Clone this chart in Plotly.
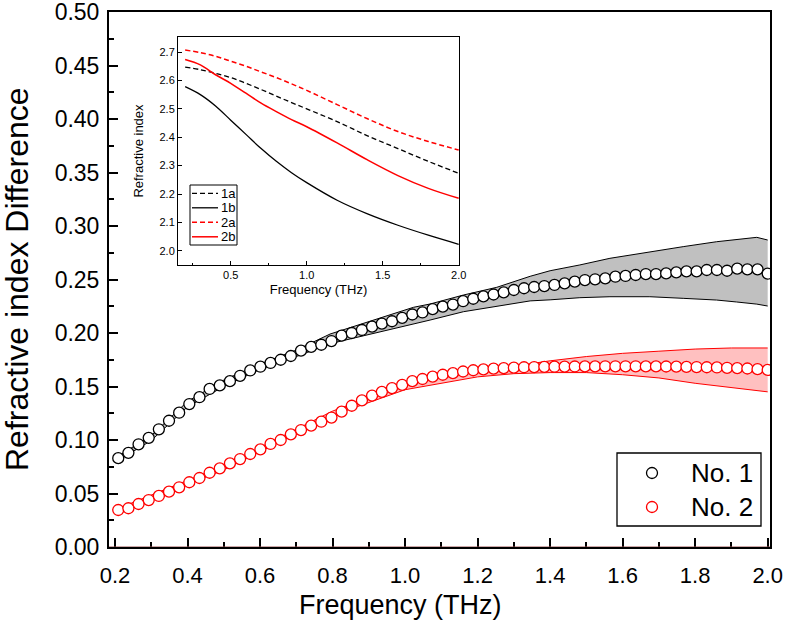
import plotly.graph_objects as go

# ---------------- main data ----------------
freq = [0.209, 0.237, 0.265, 0.293, 0.321, 0.349, 0.377, 0.405, 0.433, 0.461,
        0.489, 0.517, 0.545, 0.573, 0.601, 0.629, 0.657, 0.685, 0.713, 0.741,
        0.769, 0.797, 0.825, 0.853, 0.881, 0.909, 0.936, 0.964, 0.992, 1.020,
        1.048, 1.076, 1.104, 1.132, 1.160, 1.188, 1.216, 1.244, 1.272, 1.300,
        1.328, 1.356, 1.384, 1.412, 1.440, 1.468, 1.496, 1.524, 1.552, 1.580,
        1.608, 1.636, 1.664, 1.692, 1.720, 1.748, 1.776, 1.804, 1.832, 1.860,
        1.888, 1.916, 1.944, 1.972, 2.000]

no1 = [0.0830, 0.0880, 0.0960, 0.1020, 0.1100, 0.1180, 0.1255, 0.1336, 0.1400, 0.1477,
       0.1510, 0.1550, 0.1600, 0.1650, 0.1685, 0.1720, 0.1750, 0.1785, 0.1835, 0.1870,
       0.1890, 0.1925, 0.1975, 0.2000, 0.2028, 0.2059, 0.2087, 0.2110, 0.2142, 0.2173,
       0.2192, 0.2223, 0.2246, 0.2266, 0.2297, 0.2320, 0.2342, 0.2360, 0.2380, 0.2402,
       0.2418, 0.2430, 0.2439, 0.2449, 0.2464, 0.2480, 0.2495, 0.2502, 0.2511, 0.2526,
       0.2533, 0.2542, 0.2551, 0.2551, 0.2557, 0.2567, 0.2576, 0.2576, 0.2589, 0.2589,
       0.2582, 0.2601, 0.2595, 0.2595, 0.2555]

no2 = [0.0346, 0.0362, 0.0402, 0.0439, 0.0477, 0.0517, 0.0558, 0.0605, 0.0645, 0.0694,
       0.0735, 0.0782, 0.0822, 0.0869, 0.0913, 0.0963, 0.1000, 0.1053, 0.1093, 0.1134,
       0.1171, 0.1210, 0.1265, 0.1320, 0.1370, 0.1415, 0.1450, 0.1485, 0.1515, 0.1550,
       0.1570, 0.1592, 0.1610, 0.1625, 0.1640, 0.1652, 0.1660, 0.1667, 0.1672, 0.1676,
       0.1680, 0.1682, 0.1684, 0.1685, 0.1686, 0.1687, 0.1688, 0.1688, 0.1689, 0.1689,
       0.1689, 0.1689, 0.1688, 0.1688, 0.1687, 0.1686, 0.1684, 0.1682, 0.1680, 0.1678,
       0.1675, 0.1672, 0.1668, 0.1662, 0.1655]

band1_freq = [0.209, 0.30, 0.40, 0.50, 0.60, 0.70, 0.793, 0.885, 0.977, 1.023, 1.069,
              1.161, 1.253, 1.345, 1.40, 1.482, 1.565, 1.675, 1.767, 1.859, 1.914,
              1.970, 2.000]
band1_upper = [0.0850, 0.1040, 0.1360, 0.1560, 0.1710, 0.1840, 0.1990, 0.2090, 0.2184,
               0.2240, 0.2271, 0.2355, 0.2427, 0.2530, 0.2582, 0.2636, 0.2698, 0.2760,
               0.2807, 0.2853, 0.2876, 0.2894, 0.2869]
band1_lower = [0.0810, 0.0995, 0.1310, 0.1500, 0.1660, 0.1780, 0.1900, 0.1972, 0.2044,
               0.2085, 0.2121, 0.2199, 0.2252, 0.2300, 0.2310, 0.2330, 0.2339, 0.2339,
               0.2324, 0.2308, 0.2290, 0.2270, 0.2252]

band2_freq = [0.209, 0.50, 0.80, 1.00, 1.20, 1.30, 1.40, 1.50, 1.60, 1.70, 1.80, 1.90, 2.00]
band2_upper = [0.0360, 0.0760, 0.1270, 0.1520, 0.1640, 0.1690, 0.1740, 0.1780, 0.1810,
               0.1830, 0.1850, 0.1860, 0.1860]
band2_lower = [0.0330, 0.0720, 0.1230, 0.1470, 0.1590, 0.1620, 0.1630, 0.1630, 0.1610,
               0.1580, 0.1530, 0.1490, 0.1450]

series_names = ["No. 1", "No. 2"]
series_colors = ["black", "red"]

x_ticks = [0.2, 0.4, 0.6, 0.8, 1.0, 1.2, 1.4, 1.6, 1.8, 2.0]
x_ticklabels = ["0.2", "0.4", "0.6", "0.8", "1.0", "1.2", "1.4", "1.6", "1.8", "2.0"]
y_ticks = [0.0, 0.05, 0.10, 0.15, 0.20, 0.25, 0.30, 0.35, 0.40, 0.45, 0.50]
y_ticklabels = ["0.00", "0.05", "0.10", "0.15", "0.20", "0.25", "0.30", "0.35", "0.40", "0.45", "0.50"]

# ---------------- inset data ----------------
inset_freq = [0.2, 0.3, 0.4, 0.5, 0.6, 0.7, 0.8, 0.9, 1.0, 1.2, 1.4, 1.6, 1.8, 2.0]
n_1a = [2.647, 2.638, 2.625, 2.610, 2.590, 2.568, 2.545, 2.522, 2.500, 2.455, 2.405, 2.360, 2.315, 2.273]
n_1b = [2.578, 2.550, 2.510, 2.460, 2.410, 2.360, 2.315, 2.275, 2.240, 2.178, 2.130, 2.090, 2.055, 2.023]
n_2a = [2.707, 2.698, 2.685, 2.668, 2.650, 2.630, 2.610, 2.588, 2.565, 2.515, 2.465, 2.420, 2.385, 2.355]
n_2b = [2.674, 2.655, 2.620, 2.590, 2.555, 2.520, 2.490, 2.462, 2.437, 2.380, 2.320, 2.265, 2.220, 2.185]
inset_names = ["1a", "1b", "2a", "2b"]
inset_colors = ["black", "black", "red", "red"]
inset_dash = ["5px,3px", "solid", "5px,3px", "solid"]

FONT = "Arial, Liberation Sans, sans-serif"

fig = go.Figure()

# bands (No. 1 gray, No. 2 pink)
fig.add_trace(go.Scatter(x=band1_freq, y=band1_lower, mode="lines",
                         line=dict(color="black", width=1), showlegend=False, hoverinfo="skip"))
fig.add_trace(go.Scatter(x=band1_freq, y=band1_upper, mode="lines", fill="tonexty",
                         fillcolor="#c0c0c0", line=dict(color="black", width=1),
                         showlegend=False, hoverinfo="skip"))
fig.add_trace(go.Scatter(x=band2_freq, y=band2_lower, mode="lines",
                         line=dict(color="red", width=1), showlegend=False, hoverinfo="skip"))
fig.add_trace(go.Scatter(x=band2_freq, y=band2_upper, mode="lines", fill="tonexty",
                         fillcolor="#ffc0c0", line=dict(color="red", width=1),
                         showlegend=False, hoverinfo="skip"))

# circles
for name, ys, col in zip(series_names, [no1, no2], series_colors):
    fig.add_trace(go.Scatter(x=freq, y=ys, mode="markers", name=name, showlegend=False,
                             marker=dict(symbol="circle", size=11, color="white",
                                         line=dict(color=col, width=1.3))))

# inset curves
for name, ys, col, dsh in zip(inset_names, [n_1a, n_1b, n_2a, n_2b], inset_colors, inset_dash):
    fig.add_trace(go.Scatter(x=inset_freq, y=ys, mode="lines", name=name, line_shape="spline",
                             line=dict(color=col, width=1.5 if col == "red" else 1.3, dash=dsh),
                             xaxis="x2", yaxis="y2", showlegend=False))

# helpers: pixel -> paper coordinates
PL, PT, PW, PH = 109.0, 12.0, 661.0, 535.0
def px(x):
    return (x - PL) / PW
def py(y):
    return (PT + PH - y) / PH

shapes = []
annotations = []

# manual inset legend
shapes.append(dict(type="rect", xref="paper", yref="paper", x0=px(190), x1=px(237), y0=py(245), y1=py(185),
                   line=dict(color="black", width=1), fillcolor="white", layer="above"))
for k, (name, col, dsh) in enumerate(zip(inset_names, inset_colors, inset_dash)):
    yy = 193.3 + k * 14.5
    shapes.append(dict(type="line", xref="paper", yref="paper", x0=px(192), x1=px(218),
                       y0=py(yy), y1=py(yy), layer="above",
                       line=dict(color=col, width=1.5 if col == "red" else 1.3, dash=dsh)))
    annotations.append(dict(xref="paper", yref="paper", x=px(219), y=py(yy), text=name,
                            showarrow=False, xanchor="left", yanchor="middle",
                            font=dict(size=13, family=FONT, color="black")))

# manual main legend
shapes.append(dict(type="rect", xref="paper", yref="paper", x0=px(617), x1=px(761), y0=py(526), y1=py(453),
                   line=dict(color="black", width=1.3), fillcolor="white", layer="above"))
for k, (name, col) in enumerate(zip(series_names, series_colors)):
    yy = 473 + k * 34
    shapes.append(dict(type="circle", xref="paper", yref="paper", xsizemode="pixel", ysizemode="pixel",
                       xanchor=px(652), yanchor=py(yy), x0=-5.5, x1=5.5, y0=-5.5, y1=5.5,
                       line=dict(color=col, width=1.3), fillcolor="white", layer="above"))
    annotations.append(dict(xref="paper", yref="paper", x=px(689), y=py(yy), text=name,
                            showarrow=False, xanchor="left", yanchor="middle",
                            font=dict(size=26, family=FONT, color="black")))

# axis titles
annotations.append(dict(xref="paper", yref="paper", x=px(17), y=py(279), text="Refractive index Difference",
                        textangle=-90, showarrow=False, xanchor="center", yanchor="middle",
                        font=dict(size=32, family=FONT, color="black")))
annotations.append(dict(xref="paper", yref="paper", x=px(400), y=py(605), text="Frequency (THz)",
                        showarrow=False, xanchor="center", yanchor="middle",
                        font=dict(size=27, family=FONT, color="black")))

shapes.append(dict(type="line", xref="paper", yref="y", x0=0, x1=1, y0=0, y1=0,
                   line=dict(color="#9a5050", width=1), layer="above"))

fig.update_layout(
    width=787, height=621,
    margin=dict(l=109, r=17, t=12, b=74),
    paper_bgcolor="white", plot_bgcolor="white",
    font=dict(family=FONT, color="black"),
    showlegend=False,
    xaxis=dict(
        range=[0.1835, 2.0064], domain=[0, 1], automargin=False,
        tickmode="array", tickvals=x_ticks, ticktext=x_ticklabels,
        ticks="inside", ticklen=9, tickwidth=2, tickcolor="black",
        minor=dict(dtick=0.1, tick0=0.2, ticks="inside", ticklen=5, tickwidth=1.5, tickcolor="black"),
        showline=True, linecolor="black", linewidth=2, mirror=True,
        showgrid=False, zeroline=False, ticklabelstandoff=8, ticklabeloverflow="allow",
        tickfont=dict(size=22, family=FONT),
    ),
    yaxis=dict(
        range=[0, 0.5], domain=[0, 1], automargin=False,
        tickmode="array", tickvals=y_ticks, ticktext=y_ticklabels,
        ticks="inside", ticklen=9, tickwidth=2, tickcolor="black",
        minor=dict(dtick=0.025, tick0=0, ticks="inside", ticklen=5, tickwidth=1.5, tickcolor="black"),
        showline=True, linecolor="black", linewidth=2, mirror=True,
        showgrid=False, zeroline=False, ticklabelstandoff=3, ticklabeloverflow="allow",
        tickfont=dict(size=23, family=FONT),
    ),
    xaxis2=dict(
        range=[0.153, 2.002], domain=[px(178), px(459)], anchor="y2", automargin=False,
        tickmode="array", tickvals=[0.5, 1.0, 1.5, 2.0], ticktext=["0.5", "1.0", "1.5", "2.0"],
        ticks="inside", ticklen=4, tickwidth=1, tickcolor="black",
        minor=dict(tickvals=[0.25, 0.75, 1.25, 1.75], ticks="inside", ticklen=2, tickwidth=1, tickcolor="black"),
        showline=True, linecolor="black", linewidth=1, mirror=True,
        showgrid=False, zeroline=False,
        tickfont=dict(size=11, family=FONT),
        title=dict(text="Frequency (THz)", font=dict(size=13, family=FONT), standoff=4),
    ),
    yaxis2=dict(
        range=[1.95, 2.753], domain=[py(265), py(37)], anchor="x2", automargin=False,
        tickmode="array", tickvals=[2.0, 2.1, 2.2, 2.3, 2.4, 2.5, 2.6, 2.7],
        ticktext=["2.0", "2.1", "2.2", "2.3", "2.4", "2.5", "2.6", "2.7"],
        ticks="inside", ticklen=4, tickwidth=1, tickcolor="black",
        showline=True, linecolor="black", linewidth=1, mirror=True,
        showgrid=False, zeroline=False,
        tickfont=dict(size=11, family=FONT),
        title=dict(text="Refractive index", font=dict(size=13, family=FONT), standoff=12),
    ),
    shapes=shapes,
    annotations=annotations,
)

fig.write_html("out.html", config={"displayModeBar": False},
               post_script=["document.body.style.margin='0px';"])
